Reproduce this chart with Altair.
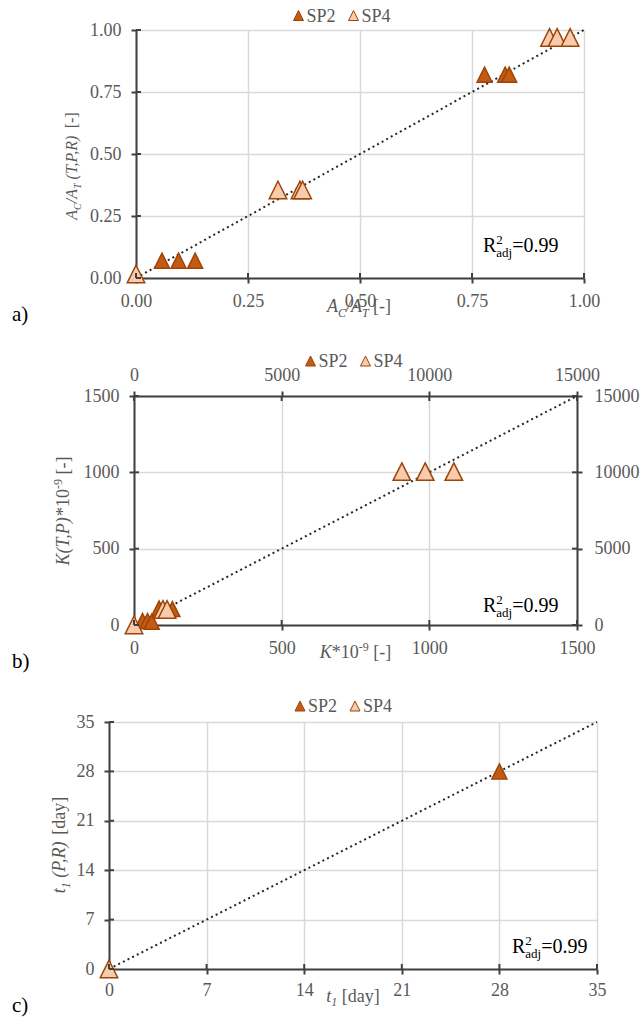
import altair as alt
import pandas as pd

FONT = "'Liberation Serif', 'Times New Roman', Times, serif"
GRAY = "#595959"
AXC = "#404040"
GRID = "#d9d9d9"
DARK = "#C55A11"
LIGHT = "#F8CBAD"
EDGE = "#9C4509"
TRI = "M0,-1L1,1L-1,1Z"

series = ["SP2", "SP4"]
series_fill = [DARK, LIGHT]

# ---- panel a data ----
a_sp2_x = [0.058, 0.095, 0.132, 0.778, 0.824, 0.833]
a_sp2_y = [0.07, 0.07, 0.07, 0.82, 0.82, 0.82]
a_sp4_x = [0.0, 0.317, 0.366, 0.372, 0.923, 0.94, 0.969]
a_sp4_y = [0.016, 0.355, 0.355, 0.355, 0.97, 0.97, 0.97]
a_ticks = [0, 0.25, 0.5, 0.75, 1.0]

# ---- panel b data ----
b_sp2_x = [29, 46, 60, 85, 130]
b_sp2_y = [26, 26, 22, 108, 104]
b_sp4_x = [0, 98, 112, 907, 986, 1083]
b_sp4_y = [0, 102, 102, 1005, 1005, 1005]
b_ticks = [0, 500, 1000, 1500]

# ---- panel c data ----
c_sp2_x = [28]
c_sp2_y = [28]
c_sp4_x = [0]
c_sp4_y = [0]
c_ticks = [0, 7, 14, 21, 28, 35]

r2_value = "=0.99"

REG = {" ": 250, "(": 333, ")": 333, "*": 500, ",": 250, "-": 333, ".": 250, "/": 278,
       "=": 564, "[": 333, "]": 333, "A": 722, "C": 667, "K": 722, "P": 556, "R": 667,
       "S": 556, "T": 611, "a": 444, "d": 500, "j": 278, "y": 500, "t": 278}
ITA = {" ": 250, "(": 333, ")": 333, "*": 500, ",": 250, "-": 333, ".": 250, "/": 278,
       "[": 389, "]": 389, "A": 611, "C": 667, "K": 667, "P": 611, "R": 611, "T": 556,
       "a": 500, "d": 500, "t": 278, "y": 444}

DUMMY = pd.DataFrame({"d": [0]})


def text_w(s, it, fs):
    tbl = ITA if it else REG
    return sum(tbl.get(ch, 500) for ch in s) * fs / 1000.0


def seg_layers(segs, x0, y0, size, color, angle=0, anchor="start", subscale=0.65):
    sub = round(size * subscale)
    pieces = []
    adv = 0.0
    for seg in segs:
        txt, it = seg[0], seg[1]
        kind = seg[2] if len(seg) > 2 else "n"
        fs = size if kind == "n" else sub
        shift = 0 if kind == "n" else (0.25 * size if kind == "sub" else -0.38 * size)
        lead = len(txt) - len(txt.lstrip(" "))
        core = txt.strip(" ")
        pieces.append((core, it, fs, shift, adv + text_w(" " * lead, it, fs)))
        if not (len(seg) > 3 and seg[3] == "stack"):
            adv += text_w(txt, it, fs)
    start = -adv / 2 if anchor == "middle" else 0
    out = []
    for txt, it, fs, shift, a in pieces:
        a += start
        if angle == 270:
            px, py = x0 + shift, y0 - a
        else:
            px, py = x0 + a, y0 + shift
        out.append(
            alt.Chart(DUMMY).mark_text(
                text=txt, font=FONT, fontSize=fs,
                fontStyle="italic" if it else "normal",
                angle=angle, align="left", baseline="alphabetic", color=color
            ).encode(x=alt.value(px), y=alt.value(py))
        )
    return out


def legend_layers(sx, sy, base):
    out = []
    x = sx
    for name, col in zip(series, series_fill):
        out.append(alt.Chart(DUMMY).mark_point(
            shape=TRI, filled=True, size=100, fill=col, stroke=EDGE, strokeWidth=1, opacity=1
        ).encode(x=alt.value(x), y=alt.value(sy)))
        out += seg_layers([(name, False)], x + 8, base, 18, GRAY)
        x = x + 8 + 47
    return out


def panel(sp2x, sp2y, sp4x, sp4y, ticks, fmt, W, H, xr0, slot, leg, ytitle, xtitle,
          r2pos, label, labpos, bpad, dual=False):
    lo, hi = ticks[0], ticks[-1]
    xs = alt.Scale(domain=[lo, hi], range=[xr0, W], nice=False, zero=False)
    ys = alt.Scale(domain=[lo, hi], nice=False, zero=False)
    xaxis = alt.Axis(values=ticks, format=fmt, title=None, grid=True, orient="bottom",
                     labelPadding=bpad, labelBaseline="alphabetic", labelFlush=False)
    yaxis = alt.Axis(values=ticks, format=fmt, title=None, grid=True, orient="left",
                     offset=-xr0, labelPadding=10, labelFlush=False)
    fill = alt.Fill("s:N", scale=alt.Scale(domain=series, range=series_fill), legend=None)

    def X(ax):
        return alt.X("x:Q", scale=xs, axis=ax)

    def Y(ax):
        return alt.Y("y:Q", scale=ys, axis=ax)

    if dual:
        top_x = alt.Axis(values=ticks, title=None, grid=False, orient="top",
                         labelExpr="format(datum.value*10,'d')", labelPadding=11,
                         labelBaseline="alphabetic", labelFlush=False)
        right_y = alt.Axis(values=ticks, title=None, grid=False, orient="right",
                           labelExpr="format(datum.value*10,'d')", labelPadding=12,
                           labelFlush=False)
        ox, oy = None, None
    else:
        top_x, right_y = xaxis, yaxis
        ox, oy = xaxis, yaxis

    bounds = alt.Chart(DUMMY).mark_rect(opacity=0).encode(
        x=alt.value(-109), x2=alt.value(531), y=alt.value(slot[0]), y2=alt.value(slot[1]))

    line = alt.Chart(pd.DataFrame({"x": [lo, hi], "y": [lo, hi]})).mark_line(
        color="#262626", strokeWidth=2, strokeDash=[2, 3.2]
    ).encode(x=X(top_x), y=Y(right_y))

    df2 = pd.DataFrame({"x": sp2x, "y": sp2y, "s": "SP2"})
    df4 = pd.DataFrame({"x": sp4x, "y": sp4y, "s": "SP4"})
    p2 = alt.Chart(df2).mark_point(shape=TRI, filled=True, size=225, stroke=EDGE,
                                   strokeWidth=1.5, opacity=1).encode(
        x=X(xaxis), y=Y(yaxis), fill=fill)
    p4 = alt.Chart(df4).mark_point(shape=TRI, filled=True, size=306, stroke=EDGE,
                                   strokeWidth=1.5, opacity=1).encode(
        x=X(ox), y=Y(oy), fill=fill)

    tx = pd.DataFrame({"x": ticks})
    ty = pd.DataFrame({"y": ticks})
    tk = [
        alt.Chart(tx).mark_rule(color=AXC, strokeWidth=2).encode(
            x=X(ox), y=alt.value(H), y2=alt.value(H - 5)),
        alt.Chart(ty).mark_rule(color=AXC, strokeWidth=2).encode(
            y=Y(oy), x=alt.value(xr0), x2=alt.value(xr0 + 5)),
    ]
    if dual:
        tk += [
            alt.Chart(tx).mark_rule(color=AXC, strokeWidth=2).encode(
                x=X(None), y=alt.value(0), y2=alt.value(5)),
            alt.Chart(ty).mark_rule(color=AXC, strokeWidth=2).encode(
                y=Y(None), x=alt.value(W), x2=alt.value(W - 5)),
        ]

    texts = []
    texts += seg_layers(ytitle[0], ytitle[1], ytitle[2], ytitle[3], GRAY, angle=270, anchor="middle")
    texts += seg_layers(xtitle[0], xtitle[1], xtitle[2], xtitle[3], GRAY, angle=0, anchor="middle")
    texts += seg_layers([("R", False), ("2", False, "sup", "stack"), ("adj", False, "sub"),
                         (r2_value, False)], r2pos[0], r2pos[1], 20, "black")
    texts += seg_layers([(label, False)], labpos[0], labpos[1], 21, "black")
    texts += legend_layers(*leg)

    layers = [bounds, line, p2, p4] + tk + texts
    ch = alt.layer(*layers).properties(width=W, height=H)
    if dual:
        ch = ch.resolve_axis(x="independent", y="independent")
    return ch


ya = [[("A", True), ("C", True, "sub"), ("/A", True), ("T", True, "sub"),
       (" (T,P,R)", True), (" [-]", False)], -32, 136, 16]
xa = [[("A", True), ("C", True, "sub"), ("/A", True), ("T", True, "sub"),
       (" [-]", False)], 250, 282, 18]
yb = [[("K(T,P)", True), ("*10", False), ("-9", False, "sup"), (" [-]", False)], -40, 115, 18]
xb = [[("K", True), ("*10", False), ("-9", False, "sup"), (" [-]", False)], 246.5, 262, 18]
yc = [[("t", True), ("1", True, "sub"), (" (P,R)", True), (" [day]", False)], -44, 123, 18]
xc = [[("t", True), ("1", True, "sub"), (" [day]", False)], 244, 279.5, 18]

pa = panel(a_sp2_x, a_sp2_y, a_sp4_x, a_sp4_y, a_ticks, ".2f", 475, 248, 27, (-30, 300),
           (189.5, -14.5, -8.3), ya, xa, (374, 222), "a)", (-97, 291), 23)
pb = panel(b_sp2_x, b_sp2_y, b_sp4_x, b_sp4_y, b_ticks, "d", 468, 229, 25, (-66, 280),
           (201.5, -35, -29.3), yb, xb, (374, 215.7), "b)", (-97, 272), 23, dual=True)
pc = panel(c_sp2_x, c_sp2_y, c_sp4_x, c_sp4_y, c_ticks, "d", 488, 247, 0, (-46, 296),
           (191, -16, -10), yc, xc, (403, 231), "c)", (-97, 290), 21)

chart = alt.vconcat(pa, pb, pc, spacing=0).resolve_scale(
    x="independent", y="independent", fill="independent"
).configure_view(stroke=None).configure_axis(
    domainColor=AXC, domainWidth=2, tickColor=AXC, tickWidth=2, tickSize=5,
    gridColor=GRID, gridWidth=1.5, labelFont=FONT, labelFontSize=18, labelColor=GRAY,
    labelOverlap=False
).properties(padding=0, background="white")

chart.save("out.html", embed_options={"renderer": "svg", "actions": False})
